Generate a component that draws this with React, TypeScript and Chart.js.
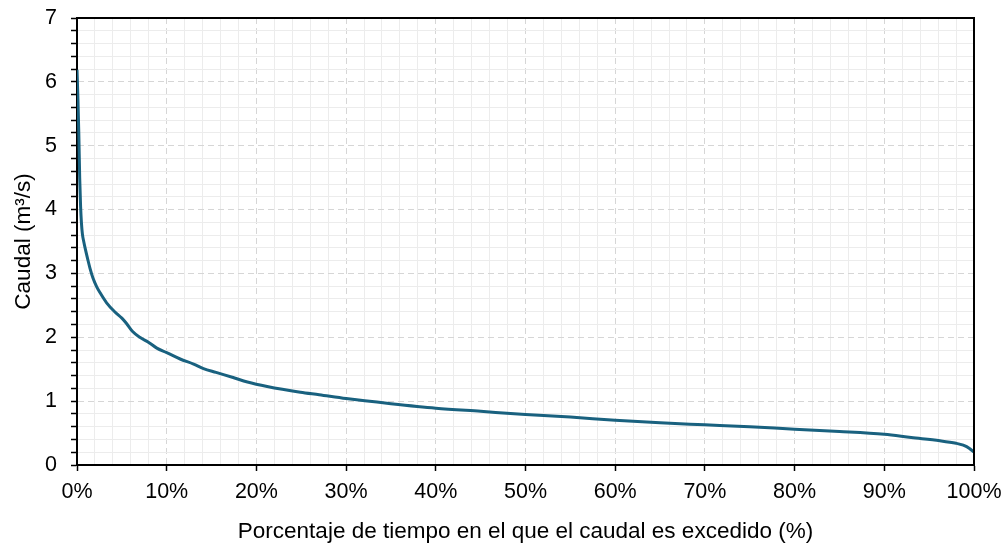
import React, { useEffect, useRef } from "react";
import { Chart, registerables } from "chart.js";

Chart.register(...registerables);

const exceedancePct = [
  0, 0.1, 0.2, 0.3, 0.4, 0.5, 0.6, 0.75, 0.9, 1.2, 1.45, 1.8, 2.2, 2.56, 3.3, 4.2, 5.0, 5.5,
  6.2, 7.0, 8.0, 8.9, 10, 11.5, 13, 14.1, 15.5, 17.4, 19, 21.2, 24.9, 27, 30, 35,
  40, 45, 50, 55, 60, 65, 70, 75, 80, 85, 90, 93, 96.2, 98, 98.8, 99.5, 100,
];
const flowValues = [
  6.19, 5.75, 5.2, 4.5, 4.05, 3.78, 3.62, 3.5, 3.4, 3.22, 3.08, 2.92, 2.79, 2.7, 2.54, 2.4, 2.3, 2.22,
  2.09, 2.0, 1.92, 1.83, 1.76, 1.66, 1.58, 1.51, 1.45, 1.37, 1.3, 1.23, 1.14, 1.1, 1.04, 0.96,
  0.89, 0.84, 0.79, 0.75, 0.7, 0.66, 0.63, 0.6, 0.56, 0.525, 0.48, 0.43, 0.38, 0.34, 0.31, 0.26, 0.2,
];

const xTitle = "Porcentaje de tiempo en el que el caudal es excedido (%)";
const yTitle = "Caudal (m³/s)";

const FONT = "'Liberation Sans', Arial, sans-serif";

const isMajorY = (v: number) => Math.abs(v - Math.round(v)) < 1e-6;
const isMajorX = (v: number) => Math.abs(v / 10 - Math.round(v / 10)) < 1e-6;

const frame = {
  id: "frame",
  afterDatasetsDraw(chart: any) {
    const { ctx, chartArea } = chart;
    ctx.save();
    ctx.strokeStyle = "#000";
    ctx.lineWidth = 2;
    ctx.beginPath();
    ctx.moveTo(chartArea.left, chartArea.top);
    ctx.lineTo(chartArea.right, chartArea.top);
    ctx.lineTo(chartArea.right, chartArea.bottom);
    ctx.stroke();
    ctx.restore();
  },
};

export default function App() {
  const ref = useRef<HTMLCanvasElement | null>(null);
  useEffect(() => {
    document.body.style.margin = "0";
    const canvas = ref.current!;
    const chart = new Chart(canvas, {
      type: "line",
      data: {
        datasets: [
          {
            data: exceedancePct.map((x, i) => ({ x, y: flowValues[i] })),
            borderColor: "#19617f",
            borderWidth: 3,
            pointRadius: 0,
            fill: false,
            cubicInterpolationMode: "monotone",
          },
        ],
      },
      options: {
        animation: false,
        responsive: true,
        maintainAspectRatio: false,
        layout: { padding: { left: 0, top: 18, right: 29, bottom: 0 } },
        plugins: { legend: { display: false }, tooltip: { enabled: false } },
        scales: {
          x: {
            type: "linear",
            min: 0,
            max: 100,
            afterFit: (s: any) => {
              s.height = 81;
              s.paddingLeft = 0;
              s.paddingRight = 0;
            },
            ticks: {
              stepSize: 2,
              autoSkip: false,
              maxRotation: 0,
              padding: 8,
              color: "#000",
              font: { family: FONT, size: 21.5 },
              callback: (v: any) => (isMajorX(Number(v)) ? `${Math.round(Number(v))}%` : ""),
            },
            grid: {
              color: (c: any) => (c.tick && isMajorX(c.tick.value) ? "#d6d6d6" : "#ececec"),
              lineWidth: 1,
              tickLength: 6,
              tickWidth: 1.5,
              tickColor: (c: any) => (c.tick && isMajorX(c.tick.value) ? "#000" : "rgba(0,0,0,0)"),
            },
            border: {
              color: "#000",
              width: 2,
              dash: (c: any) => (c.type === "tick" && c.tick && isMajorX(c.tick.value) && c.tick.value > 0 && c.tick.value < 100 ? [6, 4] : []),
            },
            title: {
              display: true,
              text: xTitle,
              color: "#000",
              font: { family: FONT, size: 22.5 },
              padding: { top: 0, bottom: 1 },
            },
          },
          y: {
            type: "linear",
            min: 0,
            max: 7,
            afterFit: (s: any) => {
              s.width = 77;
              s.paddingTop = 0;
              s.paddingBottom = 0;
            },
            ticks: {
              stepSize: 0.2,
              autoSkip: false,
              padding: 14,
              color: "#000",
              font: { family: FONT, size: 21.5 },
              callback: (v: any) => (isMajorY(Number(v)) ? `${Math.round(Number(v))}` : ""),
            },
            grid: {
              color: (c: any) => (c.tick && isMajorY(c.tick.value) ? "#d6d6d6" : "#ececec"),
              lineWidth: 1,
              tickLength: 6,
              tickWidth: 1.5,
              tickColor: "#000",
            },
            border: {
              color: "#000",
              width: 2,
              dash: (c: any) => (c.type === "tick" && c.tick && isMajorY(c.tick.value) && c.tick.value > 0 && c.tick.value < 7 ? [6, 4] : []),
            },
            title: {
              display: true,
              text: yTitle,
              color: "#000",
              font: { family: FONT, size: 22.5 },
              padding: { top: 10, bottom: 0 },
            },
          },
        },
      },
      plugins: [frame],
    } as any);
    return () => chart.destroy();
  }, []);
  return (
    <div style={{ position: "absolute", left: 0, top: 0, width: 1003, height: 546, background: "#fff" }}>
      <canvas ref={ref} />
    </div>
  );
}
